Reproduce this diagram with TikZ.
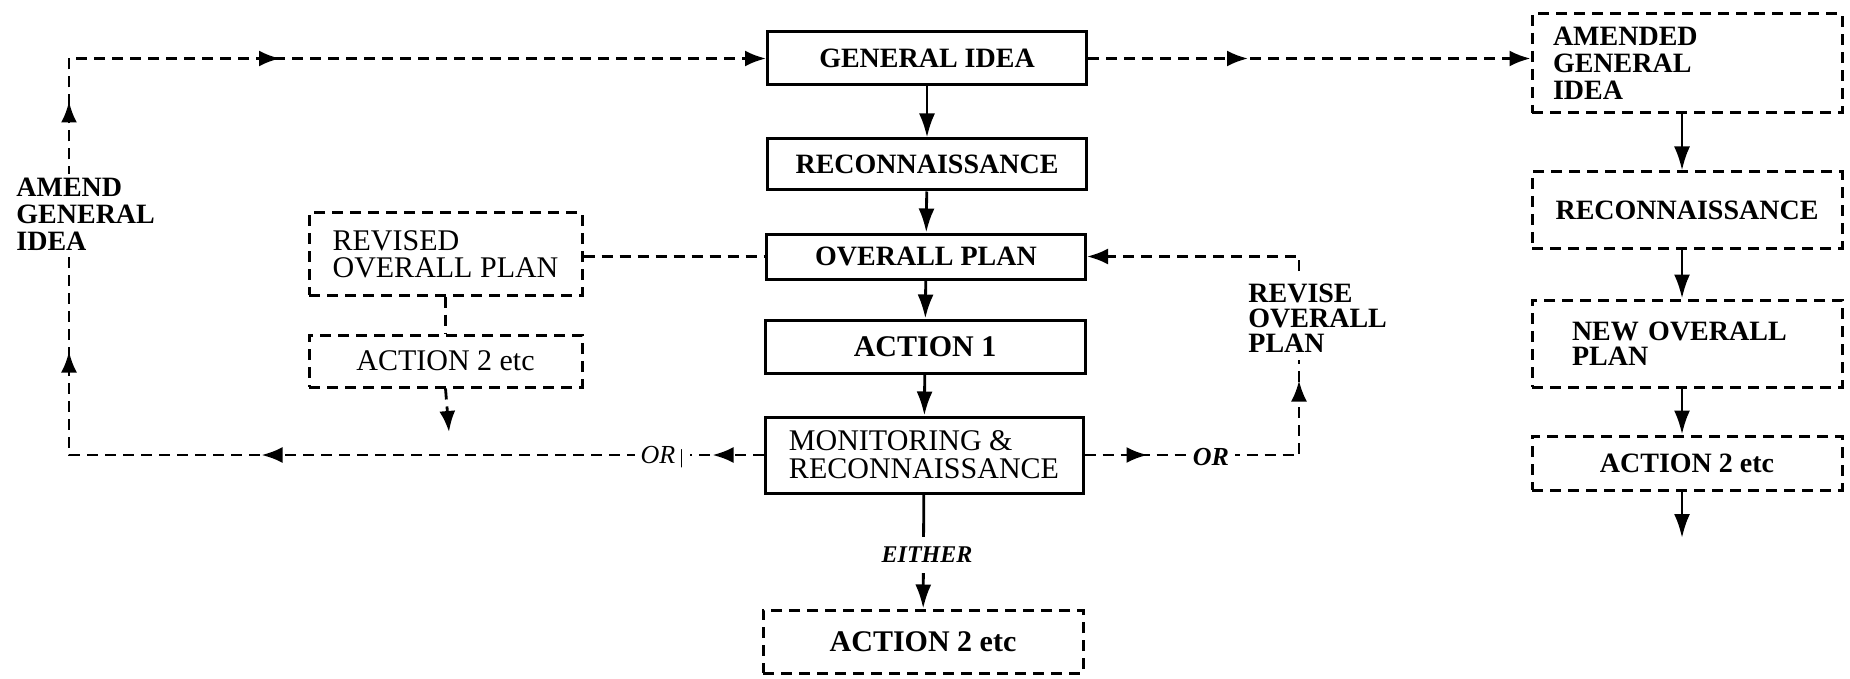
\documentclass[tikz,border=0pt]{standalone}
\usepackage{fontspec}
\setmainfont{Liberation Serif}
\usetikzlibrary{arrows.meta,decorations.markings}
\tikzset{
  boxs/.style={draw, line width=1.5pt, inner sep=0pt, font=\fontsize{14}{14}\selectfont\bfseries},
  dboxs/.style={boxs, dash pattern=on 5.5pt off 3.5pt},
  sarr/.style={line width=1.4pt, -{Latex[length=12pt,width=8pt]}},
  dline/.style={line width=1.4pt, dash pattern=on 5.5pt off 3.5pt},
  dtip/.style={-{Latex[length=10.5pt,width=8pt]}},
  lbl/.style={fill=white, inner xsep=3pt, inner ysep=1pt, font=\fontsize{13}{13}\selectfont\itshape},
  sidetxt/.style={align=left, inner sep=0pt, font=\fontsize{14}{13.5}\selectfont\bfseries},
}
\newcommand{\midtip}{\arrow{Latex[length=10.5pt,width=8pt]}}
\begin{document}
\begin{tikzpicture}[x=0.5pt,y=-0.5pt]
\useasboundingbox (0,0) rectangle (1850,679);

% central column
\node[boxs, minimum width=159.5pt, minimum height=26.5pt] (GI) at (927,58.5) {GENERAL IDEA};
\node[boxs, minimum width=159.5pt, minimum height=25.5pt] (REC) at (927,164.5) {RECONNAISSANCE};
\node[boxs, minimum width=159.5pt, minimum height=22.5pt] (OP) at (926,256.5) {OVERALL PLAN};
\node[boxs, minimum width=160pt, minimum height=26.5pt, font=\fontsize{15}{15}\selectfont\bfseries] (A1) at (925,346.5) {ACTION 1};
\node[boxs, minimum width=159pt, minimum height=38pt, align=left, font=\fontsize{15}{14}\selectfont] (MR) at (924,455) {MONITORING \&\\RECONNAISSANCE};
\node[dboxs, minimum width=160pt, minimum height=31.5pt, font=\fontsize{15}{15}\selectfont\bfseries] (A2B) at (923,641.5) {ACTION 2 etc};

% left column
\node[dboxs, minimum width=136.5pt, minimum height=41pt, align=left, font=\fontsize{15}{13.5}\selectfont] (REV) at (445.5,254) {REVISED\\OVERALL PLAN};
\node[dboxs, minimum width=136.5pt, minimum height=26pt, font=\fontsize{15}{15}\selectfont] (A2L) at (445.5,361) {ACTION 2 etc};

% right column
\node[dboxs, minimum height=49.5pt, text width=134pt, inner xsep=10.5pt, align=left, font=\fontsize{14}{13.5}\selectfont\bfseries] (AGI) at (1687,63.5) {AMENDED\\GENERAL\\IDEA};
\node[dboxs, minimum width=155pt, minimum height=38pt] (REC2) at (1687,210) {RECONNAISSANCE};
\node[dboxs, minimum height=43.5pt, text width=115pt, inner xsep=20pt, align=left, font=\fontsize{14}{12.5}\selectfont\bfseries] (NOP) at (1687,343.5) {NEW OVERALL\\PLAN};
\node[dboxs, minimum width=155pt, minimum height=27pt] (A2R) at (1687,463) {ACTION 2 etc};

% coordinates
\coordinate (bl) at (69,455);
\coordinate (tl) at (69,58.5);
\coordinate (br) at (1299,455);
\coordinate (rvb) at (1299,360);
\coordinate (rt) at (1299,271);
\coordinate (a2e) at (449,432);
\coordinate (a2r) at (1682,538);

% central solid arrows
\draw[sarr] (GI) -- (REC);
\draw[sarr] (REC) -- (OP);
\draw[sarr] (OP) -- (A1);
\draw[sarr] (A1) -- (MR);
\draw[sarr] (MR) -- (A2B);

% right column solid arrows
\draw[sarr] ([xshift=-2.5pt]AGI.south) -- ([xshift=-2.5pt]REC2.north);
\draw[sarr] ([xshift=-2.5pt]REC2.south) -- ([xshift=-2.5pt]NOP.north);
\draw[sarr] ([xshift=-2.5pt]NOP.south) -- ([xshift=-2.5pt]A2R.north);
\draw[sarr] ([xshift=-2.5pt]A2R.south) -- (a2r);

% big left loop
\draw[dline, dtip, postaction={decorate}, decoration={markings,
   mark=at position 25.5pt with {\midtip},
   mark=at position 251pt with {\midtip},
   mark=at position 399pt with {\midtip},
   mark=at position 524pt with {\midtip},
   mark=at position 651pt with {\midtip}}]
  (MR.west) -- (bl) -- (tl) -- (GI.west);

% top right
\draw[dline, dtip, postaction={decorate}, decoration={markings,
   mark=at position 80pt with {\midtip}}]
  (GI.east) -- (GI.east -| AGI.west);

% bottom right
\draw[dline, postaction={decorate}, decoration={markings,
   mark=at position 31.5pt with {\midtip},
   mark=at position 144.5pt with {\midtip}}]
  (MR.east) -- (br) -- (rvb);

% revise overall plan back to OP
\draw[dline, dtip] (rt) -- (rt |- OP.east) -- (OP.east);

% revised plan links
\draw[dline] (OP.west -| REV.east) -- (OP.west);
\draw[dline] (REV.south) -- (A2L.north);
\draw[dline, dtip] (A2L.south) -- (a2e);

% labels
\node[sidetxt, anchor=west, fill=white, inner sep=2pt] (AM) at (12,214) {AMEND\\GENERAL\\IDEA};
\node[sidetxt, anchor=north west, font=\fontsize{14}{12.5}\selectfont\bfseries] (RV) at (1248,284) {REVISE\\OVERALL\\PLAN};
\node[lbl] (OR1) at (662,457) {OR\,{\upshape\fontsize{10}{10}\selectfont|}};
\node[lbl, font=\fontsize{13}{13}\selectfont\bfseries\itshape] (OR2) at (1211,457) {OR};
\node[fill=white, inner xsep=2pt, inner ysep=5pt, font=\fontsize{12}{12}\selectfont\bfseries\itshape] (EI) at (927,555) {EITHER};
\end{tikzpicture}
\end{document}
